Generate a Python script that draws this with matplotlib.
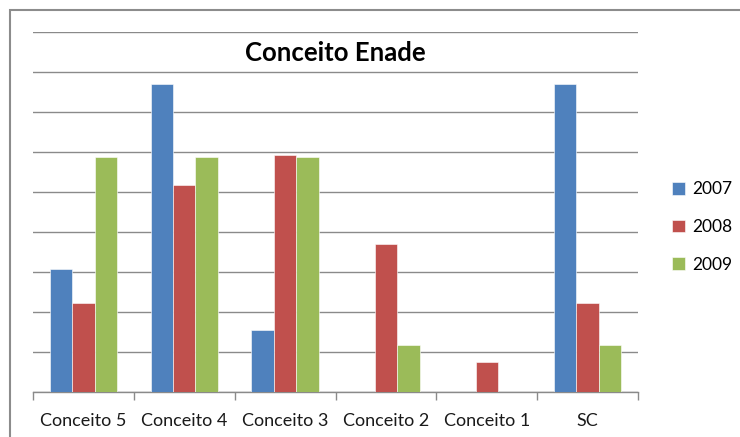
import matplotlib
matplotlib.use("Agg")
import matplotlib.pyplot as plt
import numpy as np
from matplotlib.patches import Rectangle

categories = ["Conceito 5", "Conceito 4", "Conceito 3", "Conceito 2", "Conceito 1", "SC"]
series_names = ["2007", "2008", "2009"]
v2007 = [15.4, 38.5, 7.7, 0.0, 0.0, 38.5]
v2008 = [11.1, 25.9, 29.6, 18.5, 3.7, 11.1]
v2009 = [29.4, 29.4, 29.4, 5.9, 0.0, 5.9]
colors = ["#4F81BD", "#C0504D", "#9BBB59"]

plt.rcParams['font.family'] = ['Lato', 'DejaVu Sans']

W, H = 740, 437
fig = plt.figure(figsize=(W/100, H/100), dpi=100)

# outer chart frame (cropped)
fig.patches.append(Rectangle((10/W, -0.1), 1.2, 1 - 10/H + 0.1, transform=fig.transFigure,
                             fill=False, edgecolor="#8c8c8c", linewidth=1.5))

ax = fig.add_axes([33/W, 1 - 392/H, (638-33)/W, (392-32)/H])
x = np.arange(len(categories))
bw = 1/4.5
for i, (vals, c, n) in enumerate(zip([v2007, v2008, v2009], colors, series_names)):
    ax.bar(x + (i-1)*bw, vals, bw, color=c, label=n, edgecolor="white", linewidth=0.4, zorder=3)

ax.set_xlim(-0.5, len(categories)-0.5)
ax.set_ylim(0, 45)
ax.set_yticks(np.arange(0, 46, 5))
ax.yaxis.grid(True, color="#8a8a8a", linewidth=1.0, zorder=0)
ax.set_axisbelow(True)
ax.tick_params(axis='y', left=False, labelleft=False)
for s in ["left", "right", "top"]:
    ax.spines[s].set_visible(False)
ax.spines["bottom"].set_color("#8a8a8a")
ax.spines["bottom"].set_linewidth(1.0)

ax.set_xticks(np.arange(-0.5, len(categories), 1.0))
ax.set_xticklabels([])
ax.set_xticks(x, minor=True)
ax.set_xticklabels(categories, minor=True, fontsize=13, color="#1a1a1a")
ax.tick_params(axis='x', which='major', length=6, color="#8a8a8a", width=1.0)
ax.tick_params(axis='x', which='minor', length=0, pad=15)

ax.text(0.5, 1 - 21/360, "Conceito Enade", transform=ax.transAxes, ha="center", va="center",
        fontsize=18.5, fontweight="bold", color="black")

leg = fig.legend(loc="center left", bbox_to_anchor=(663/W, 1 - 227/H), frameon=False,
                 fontsize=12.5, handlelength=0.75, handleheight=0.75, handletextpad=0.45,
                 labelspacing=1.25, borderpad=0)

fig.savefig("out.png", dpi=100)
